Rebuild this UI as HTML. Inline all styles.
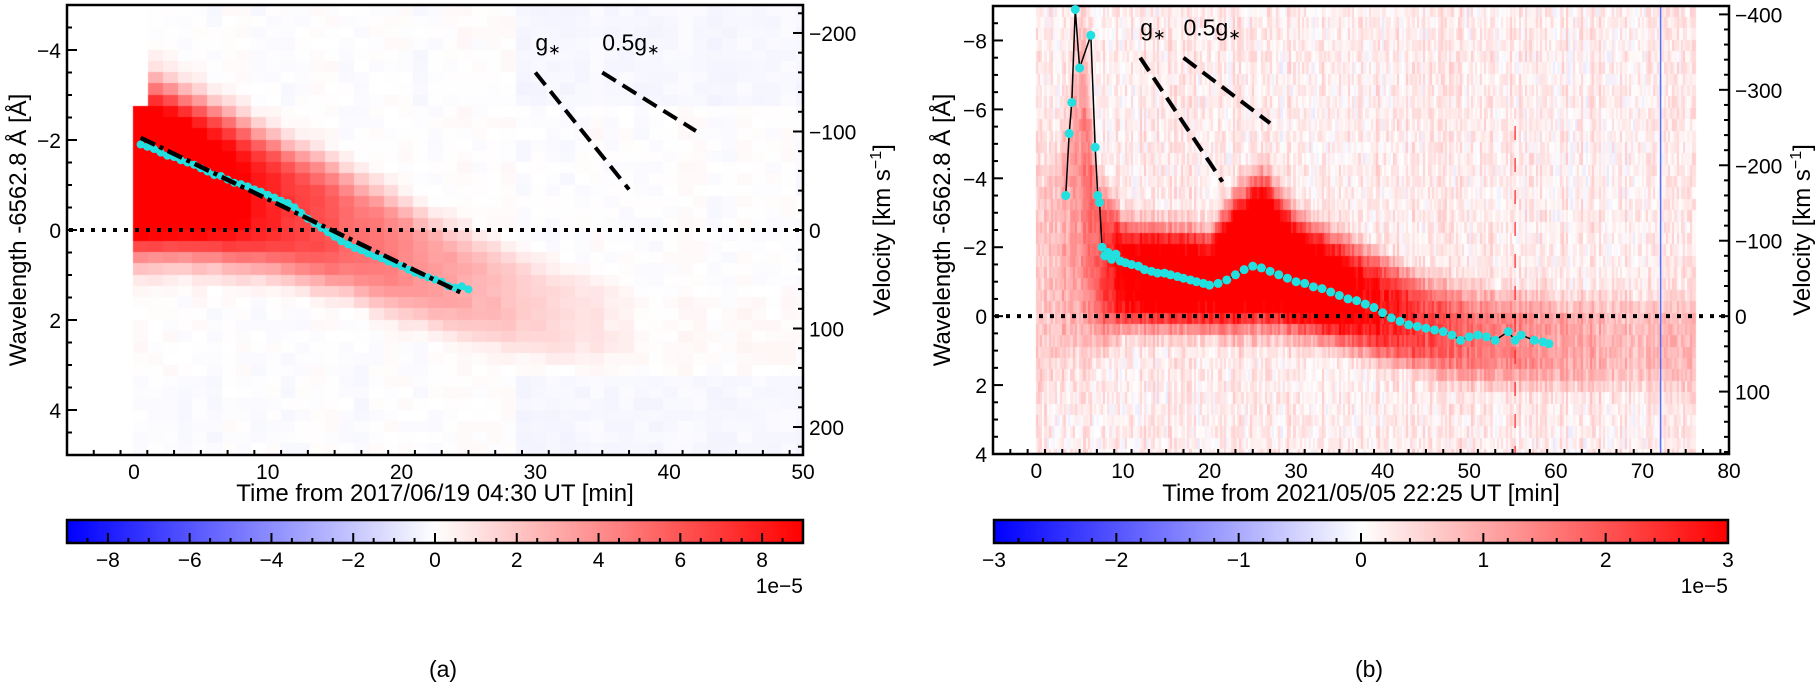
<!DOCTYPE html>
<html><head><meta charset="utf-8">
<style>
html,body{margin:0;padding:0;background:#fff;}
#root{position:relative;width:1820px;height:682px;overflow:hidden;font-family:"Liberation Sans",Arial,sans-serif;}
canvas{position:absolute;}
svg{position:absolute;left:0;top:0;}
</style></head>
<body>
<div id="root">
<canvas id="hmA"></canvas>
<canvas id="hmB"></canvas>
<canvas id="cbA"></canvas>
<canvas id="cbB"></canvas>
<svg id="ov" width="1820" height="682"></svg>
</div>
<script>
// ---------- Panel A data ----------
const aTrackT = [0, 3, 6, 10, 15, 20, 25, 30, 35, 38];
const aTrackC = [-1.35, -1.2, -0.95, -0.55, 0.0, 0.7, 1.3, 1.8, 2.1, 2.3];
const aTrackW = [1.6, 1.5, 1.4, 1.25, 1.15, 1.05, 0.95, 0.9, 0.8, 0.8];
const aTrackAmp = [1.4, 1.3, 1.1, 0.85, 0.62, 0.45, 0.3, 0.18, 0.08, 0.02];
const aCyanT = [0.5,1,1.5,2,2.5,3,3.5,4,4.5,5,5.5,6,6.5,7,7.5,8,8.5,9,9.5,10,10.5,11,11.5,12,12.5,13,13.5,14,14.5,15,15.5,16,16.5,17,17.5,18,18.5,19,19.5,20,20.5,21,21.5,22,22.5,23,23.5,24,24.5,25];
const aCyanL = [-1.9,-1.85,-1.8,-1.72,-1.65,-1.62,-1.55,-1.5,-1.45,-1.37,-1.3,-1.22,-1.2,-1.12,-1.05,-1.02,-0.97,-0.9,-0.85,-0.78,-0.72,-0.65,-0.6,-0.5,-0.38,-0.25,-0.15,-0.05,0.05,0.15,0.25,0.32,0.4,0.45,0.52,0.58,0.63,0.7,0.75,0.8,0.88,0.95,1.0,1.05,1.1,1.15,1.25,1.28,1.25,1.32];
const aFitT = [0.5, 24.5];
const aFitL = [-2.05, 1.4];
const aGT = [30, 37]; const aGL = [-3.5, -0.9];
const aHGT = [35, 42]; const aHGL = [-3.5, -2.2];
const aXTicks = [0, 10, 20, 30, 40, 50];
const aYTicks = [-4, -2, 0, 2, 4];
const aVTicks = [-200, -100, 0, 100, 200];
const aCbTicks = [-8, -6, -4, -2, 0, 2, 4, 6, 8];

// ---------- Panel B data ----------
const bTrackT = [0, 3, 5, 7, 10, 15, 20, 23, 26, 30, 35, 40, 45, 50, 55, 60, 65, 70, 76];
const bTrackC = [-1.0, -1.8, -4.0, -1.6, -1.2, -1.1, -1.0, -1.5, -1.9, -1.2, -0.7, -0.2, 0.3, 0.6, 0.7, 0.8, 0.8, 0.8, 0.8];
const bTrackW = [3.0, 3.0, 4.0, 2.0, 1.3, 1.2, 1.2, 1.6, 1.8, 1.4, 1.3, 1.2, 1.1, 1.1, 1.1, 1.1, 1.2, 1.2, 1.2];
const bTrackAmp = [0.1, 0.25, 0.35, 0.6, 1.0, 1.15, 1.05, 1.25, 1.35, 1.2, 1.05, 0.85, 0.65, 0.5, 0.42, 0.32, 0.25, 0.2, 0.2];
const bCyanT = [3.4,3.8,4.1,4.5,5.0,6.3,6.8,7.1,7.3,7.6,7.9,8.3,8.7,9.2,9.7,10.3,11,11.8,12.5,13.3,14,14.8,15.5,16.3,17,17.8,18.5,19.3,20,21,22,23,24,25,26,27,28,29,30,31,32,33,34,35,36,37,38,39,40,41,42,43,44,45,46,47,48,49,50,51,52,53,54.5,55.3,56,57.5,58.5,59.2];
const bCyanL = [-3.5,-5.3,-6.2,-8.9,-7.2,-8.15,-4.9,-3.5,-3.3,-2.0,-1.75,-1.85,-1.65,-1.8,-1.6,-1.55,-1.5,-1.45,-1.35,-1.3,-1.25,-1.25,-1.2,-1.15,-1.1,-1.05,-1.0,-0.95,-0.9,-0.95,-1.05,-1.2,-1.35,-1.45,-1.4,-1.3,-1.2,-1.1,-1.0,-0.95,-0.85,-0.8,-0.7,-0.6,-0.5,-0.45,-0.35,-0.25,-0.1,0.05,0.15,0.25,0.3,0.35,0.4,0.45,0.55,0.7,0.6,0.55,0.6,0.7,0.45,0.7,0.55,0.7,0.75,0.8];
const bGT = [12, 21.5]; const bGL = [-7.5, -3.9];
const bHGT = [17, 27]; const bHGL = [-7.5, -5.6];
const bXTicks = [0, 10, 20, 30, 40, 50, 60, 70, 80];
const bYTicks = [-8, -6, -4, -2, 0, 2, 4];
const bVTicks = [-400, -300, -200, -100, 0, 100];
const bCbTicks = [-3, -2, -1, 0, 1, 2, 3];

const KMS_PER_A = 299792.458 / 6562.8;

const A = {x0:67, x1:803, y0:5, y1:455, tmin:-5, tmax:50, lmin:-5, lmax:5};
const B = {x0:993, x1:1729, y0:6, y1:454, tmin:-5, tmax:80, lmin:-9, lmax:4};
function sx(P, t){ return P.x0 + (t - P.tmin) / (P.tmax - P.tmin) * (P.x1 - P.x0); }
function sy(P, l){ return P.y0 + (l - P.lmin) / (P.lmax - P.lmin) * (P.y1 - P.y0); }

function bwr(v){ v = Math.max(-1, Math.min(1, v));
  if (v >= 0) { const g = Math.round(255*(1-v)); return [255,g,g]; }
  const g = Math.round(255*(1+v)); return [g,g,255]; }
function hash(i,j){ let h = (i*374761393 + j*668265263) ^ 0x5bd1e995; h = Math.imul(h ^ (h>>>13), 1274126177); h = h ^ (h>>>16); return ((h>>>0) % 10000)/10000; }
function interp(xs, ys, x){ if (x<=xs[0]) return ys[0]; for (let i=1;i<xs.length;i++){ if (x<=xs[i]){ const f=(x-xs[i-1])/(xs[i]-xs[i-1]); return ys[i-1]+f*(ys[i]-ys[i-1]); } } return ys[ys.length-1]; }

function drawHeat(id, P, T, C, W, AMP, tEnd, dt, dl, bg, noise, extra){
  const cv = document.getElementById(id);
  const w = P.x1-P.x0, h = P.y1-P.y0;
  cv.width = w; cv.height = h; cv.style.left = P.x0+'px'; cv.style.top = P.y0+'px';
  const ctx = cv.getContext('2d');
  let ci = 0;
  for (let t=0; t<tEnd-1e-6; t+=dt, ci++){
    const c = interp(T,C,t), wd = interp(T,W,t), am = interp(T,AMP,t);
    let rj = 0;
    for (let l=P.lmin; l<P.lmax-1e-6; l+=dl, rj++){
      const d = (l+dl/2-c)/wd;
      let v = am*Math.exp(-d*d*d*d/2);
      v += bg + noise*(hash(ci,rj)-0.5) + noise*0.8*(hash(ci,999)-0.5);
      if (extra) v = extra(t,l,v,ci,rj);
      const [r,g,b] = bwr(v);
      ctx.fillStyle = `rgb(${r},${g},${b})`;
      const X0 = sx(P,t)-P.x0, X1 = sx(P,t+dt)-P.x0;
      const Y0 = sy(P,l)-P.y0, Y1 = sy(P,l+dl)-P.y0;
      ctx.fillRect(Math.floor(X0), Math.floor(Y0), Math.ceil(X1-X0)+1, Math.ceil(Y1-Y0)+1);
    }
  }
}
drawHeat('hmA', A, aTrackT, aTrackC, aTrackW, aTrackAmp, 50, 1.1, 0.25, 0.0, 0.04, (t,l,v)=>{
  if (l>3.0 && t>5 && t<28) v = Math.min(v,0.02);
  if (t>28 && (l>3.0||l<-2.9)) v = -0.03 + v*0.5;
  if (l>3.0 && t<6) v = -0.02 + v*0.5;
  if (l<-2.9 && t<1) v = 0;
  return v; });
drawHeat('hmB', B, bTrackT, bTrackC, bTrackW, bTrackAmp, 76, 0.25, 0.33, 0.07, 0.18, null);

function drawCb(id, x0, x1, y0, y1){
  const cv = document.getElementById(id);
  cv.width = x1-x0; cv.height = y1-y0; cv.style.left=x0+'px'; cv.style.top=y0+'px';
  const ctx = cv.getContext('2d');
  for (let i=0;i<cv.width;i++){ const [r,g,b]=bwr(-1+2*i/(cv.width-1)); ctx.fillStyle=`rgb(${r},${g},${b})`; ctx.fillRect(i,0,1,cv.height); }
}
const CBA = {x0:67, x1:803, y0:520, y1:543, vmin:-9, vmax:9};
const CBB = {x0:994, x1:1728, y0:520, y1:543, vmin:-3, vmax:3};
drawCb('cbA', CBA.x0, CBA.x1, CBA.y0, CBA.y1);
drawCb('cbB', CBB.x0, CBB.x1, CBB.y0, CBB.y1);

const NS = 'http://www.w3.org/2000/svg';
const ov = document.getElementById('ov');
function mk(tag, attrs, parent){ const e = document.createElementNS(NS, tag); for (const k in attrs) e.setAttribute(k, attrs[k]); (parent||ov).appendChild(e); return e; }
function txt(s, x, y, size, anchor, parent){ const e = mk('text', {x:x, y:y, 'font-size':size, 'text-anchor':anchor||'middle', fill:'#000', 'font-family':'Liberation Sans, Arial, sans-serif'}, parent); e.textContent = s; return e; }

// thin artifact lines in panel B
const blu = mk('line', {x1:sx(B,72.1), x2:sx(B,72.1), y1:B.y0, y2:B.y1, stroke:'#3050ff', 'stroke-width':1.5, opacity:0.8});


const rdl = mk('line', {x1:sx(B,55.3), x2:sx(B,55.3), y1:B.y0+120, y2:B.y1, stroke:'#ff2020', 'stroke-width':1.5, 'stroke-dasharray':'14 18', opacity:0.8});



const TS = 21;
function panel(P, key, xT, yT, vT, xMinor, yMinor, vMinor, xtitle){
  const g = mk('g', {});
  
  
  for (let t=P.tmin; t<=P.tmax+1e-6; t+=xMinor){
    const X = sx(P,t); const major = xT.some(v=>Math.abs(v-t)<1e-6);
    const tk = mk('line', {x1:X, x2:X, y1:P.y1, y2:P.y1-(major?10:5), stroke:'#000', 'stroke-width':2}, g);
    
    
  }
  xT.forEach(v=>{ const e = txt(String(v), sx(P,v), P.y1+24, TS, 'middle', g);
    
     });
  for (let l=Math.ceil(P.lmin/yMinor)*yMinor; l<=P.lmax+1e-6; l+=yMinor){
    const Y = sy(P,l); const major = yT.some(v=>Math.abs(v-l)<1e-6);
    const tk = mk('line', {x1:P.x0, x2:P.x0+(major?10:5), y1:Y, y2:Y, stroke:'#000', 'stroke-width':2}, g);
    
    
  }
  yT.forEach(v=>{ const e = txt(v<0?'−'+Math.abs(v):String(v), P.x0-6, sy(P,v)+8, TS, 'end', g);
    
     });
  const vmin = P.lmin*KMS_PER_A, vmax = P.lmax*KMS_PER_A;
  for (let v=Math.ceil(vmin/vMinor)*vMinor; v<=vmax; v+=vMinor){
    const Y = sy(P, v/KMS_PER_A); const major = vT.some(q=>Math.abs(q-v)<1e-6);
    const tk = mk('line', {x1:P.x1, x2:P.x1-(major?10:5), y1:Y, y2:Y, stroke:'#000', 'stroke-width':2}, g);
    
    
  }
  vT.forEach(v=>{ const e = txt(v<0?'−'+Math.abs(v):String(v), P.x1+6, sy(P,v/KMS_PER_A)+8, TS, 'start', g);
    
     });
  const fr = mk('rect', {x:P.x0, y:P.y0, width:P.x1-P.x0, height:P.y1-P.y0, fill:'none', stroke:'#000', 'stroke-width':2.5}, g);
  
  
  const z = mk('line', {x1:P.x0+2, x2:P.x1-2, y1:sy(P,0), y2:sy(P,0), stroke:'#000', 'stroke-width':4, 'stroke-dasharray':'4 7'}, g);
  
  
  const xt = txt(xtitle, (P.x0+P.x1)/2, 501, 24, 'middle', g);
  
  
  return g;
}
const gA = panel(A, 'a', aXTicks, aYTicks, aVTicks, 2, 0.5, 20, 'Time from 2017/06/19 04:30 UT [min]');
const gB = panel(B, 'b', bXTicks, bYTicks, bVTicks, 2, 0.5, 20, 'Time from 2021/05/05 22:25 UT [min]');

function rotTitle(x, y, html, name){
  const e = mk('text', {x:0, y:0, 'font-size':24, 'text-anchor':'middle', transform:`translate(${x},${y}) rotate(-90)`, 'font-family':'Liberation Sans, Arial, sans-serif'});
  e.innerHTML = html;
  
  
}
rotTitle(26, 230, 'Wavelength -6562.8 Å [Å]', 'y-axis-title-a');
rotTitle(950, 230, 'Wavelength -6562.8 Å [Å]', 'y-axis-title-b');
rotTitle(890, 230, 'Velocity [km s<tspan dy="-9" font-size="16">−1</tspan><tspan dy="9">]</tspan>', 'velocity-axis-title-a');
rotTitle(1810, 230, 'Velocity [km s<tspan dy="-9" font-size="16">−1</tspan><tspan dy="9">]</tspan>', 'velocity-axis-title-b');

function guide(P, T, L, label, name){
  const ln = mk('line', {x1:sx(P,T[0]), y1:sy(P,L[0]), x2:sx(P,T[1]), y2:sy(P,L[1]), stroke:'#000', 'stroke-width':4, 'stroke-dasharray':'16 8'});
  
  
  const t = mk('text', {x:sx(P,T[0]), y:sy(P,L[0])-22, 'font-size':23, 'text-anchor':'start', 'font-family':'Liberation Sans, Arial, sans-serif'});
  t.innerHTML = label + '<tspan font-size="15" dy="4">∗</tspan>';
  
  
}
guide(A, aGT, aGL, 'g', 'g-star-line-a');
guide(A, aHGT, aHGL, '0.5g', 'half-g-star-line-a');
guide(B, bGT, bGL, 'g', 'g-star-line-b');
guide(B, bHGT, bHGL, '0.5g', 'half-g-star-line-b');

const ptsA = aCyanT.map((t,i)=>sx(A,t)+','+sy(A,aCyanL[i])).join(' ');
const plA = mk('polyline', {points:ptsA, fill:'none', stroke:'#22e0e0', 'stroke-width':5});


aCyanT.forEach((t,i)=>{ const c = mk('circle', {cx:sx(A,t), cy:sy(A,aCyanL[i]), r:4, fill:'#22e0e0'});
  
   });
const fit = mk('line', {x1:sx(A,aFitT[0]), y1:sy(A,aFitL[0]), x2:sx(A,aFitT[1]), y2:sy(A,aFitL[1]), stroke:'#000', 'stroke-width':4.5, 'stroke-dasharray':'16 5 4 5'});



const ptsB = bCyanT.map((t,i)=>sx(B,t)+','+sy(B,bCyanL[i])).join(' ');
const plB = mk('polyline', {points:ptsB, fill:'none', stroke:'#000', 'stroke-width':1.5});


bCyanT.forEach((t,i)=>{ const c = mk('circle', {cx:sx(B,t), cy:sy(B,bCyanL[i]), r:4.5, fill:'#22e0e0'});
  
   });

function cbAxis(CB, ticks, minor, name, label){
  const g = mk('g', {});
  
  
  const cx = v => CB.x0 + (v-CB.vmin)/(CB.vmax-CB.vmin)*(CB.x1-CB.x0);
  for (let v=Math.ceil(CB.vmin/minor-1e-6)*minor; v<=CB.vmax+1e-6; v+=minor){
    const major = ticks.some(q=>Math.abs(q-v)<1e-6);
    const tk = mk('line', {x1:cx(v), x2:cx(v), y1:CB.y1, y2:CB.y1-(major?10:5), stroke:'#000', 'stroke-width':2}, g);
    
    
  }
  ticks.forEach(v=>{ const e = txt(v<0?'−'+Math.abs(v):String(v), cx(v), CB.y1+24, TS, 'middle', g);
    
     });
  const fr = mk('rect', {x:CB.x0, y:CB.y0, width:CB.x1-CB.x0, height:CB.y1-CB.y0, fill:'none', stroke:'#000', 'stroke-width':2.5}, g);
  
  
  const ex = txt('1e−5', CB.x1, 593, TS, 'end', g);
  
  
  const pl = txt(label, (CB.x0+CB.x1)/2+8, 677, 23, 'middle', g);
  
  
}
cbAxis(CBA, aCbTicks, 0.5, 'colorbar-axis-a', '(a)');
cbAxis(CBB, bCbTicks, 0.2, 'colorbar-axis-b', '(b)');
</script>
</body></html>
